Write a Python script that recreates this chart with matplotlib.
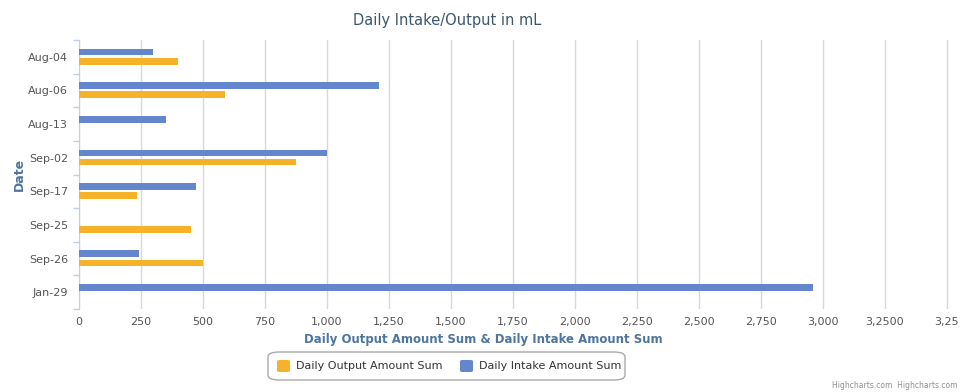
import numpy as np
import matplotlib
matplotlib.use('Agg')
import matplotlib.pyplot as plt
from matplotlib.patches import FancyBboxPatch

# data
dates = ['Aug-04', 'Aug-06', 'Aug-13', 'Sep-02', 'Sep-17', 'Sep-25', 'Sep-26', 'Jan-29']
output_sum = [400, 590, 0, 875, 235, 450, 500, 0]
intake_sum = [300, 1210, 350, 1000, 470, 0, 240, 2960]
x_ticks = [0, 250, 500, 750, 1000, 1250, 1500, 1750, 2000, 2250, 2500, 2750, 3000, 3250, 3500]
x_labels = ['0', '250', '500', '750', '1,000', '1,250', '1,500', '1,750', '2,000',
            '2,250', '2,500', '2,750', '3,000', '3,2500', '3,25']

blue = '#6386cc'
orange = '#f6b32a'
axis_title = '#4d759e'
tick_col = '#555555'

plt.rcParams['font.family'] = ['DejaVu Sans']

fig = plt.figure(figsize=(9.65, 3.92), dpi=100)
fig.patch.set_facecolor('white')
ax = fig.add_axes([79 / 965, 1 - 309 / 392, 1 - 79 / 965, 269 / 392])

y = np.arange(len(dates))
h = 0.2
ax.barh(y - 0.14, intake_sum, height=h, color=blue, label='Daily Intake Amount Sum', zorder=3)
ax.barh(y + 0.13, output_sum, height=h, color=orange, label='Daily Output Amount Sum', zorder=3)

ax.set_ylim(len(dates) - 0.5, -0.5)
ax.set_xlim(0, 3573)
ax.set_yticks(y)
ax.set_yticklabels(dates, fontsize=8, color=tick_col)
ax.set_yticks(np.arange(-0.5, len(dates), 1), minor=True)
ax.tick_params(axis='y', which='major', length=0, pad=8)
ax.tick_params(axis='y', which='minor', length=4, color='#c0d0e0', width=1)

ax.set_xticks(x_ticks)
ax.set_xticklabels(x_labels, fontsize=8, color=tick_col)
ax.tick_params(axis='x', length=0, pad=6)
ax.grid(axis='x', color='#d8d8d8', linewidth=1, zorder=0)

for s in ['top', 'right', 'bottom']:
    ax.spines[s].set_visible(False)
ax.spines['left'].set_color('#c0d0e0')
ax.set_facecolor('none')

ax.set_xlabel('Daily Output Amount Sum & Daily Intake Amount Sum', fontsize=8.5,
              fontweight='bold', color=axis_title, labelpad=4)
ax.xaxis.set_label_coords((483 - 79) / 886, -0.09)
ax.set_ylabel('Date', fontsize=9, fontweight='bold', color=axis_title)
ax.yaxis.set_label_coords(-0.06, 0.5)

fig.text(447 / 965, 1 - 20 / 392, 'Daily Intake/Output in mL', ha='center', va='center',
         fontsize=10.5, color='#3e576f')

# legend box
box = FancyBboxPatch((268 / 965, 1 - 380 / 392), 357 / 965, 28 / 392,
                     boxstyle='round,pad=0,rounding_size=0.012', transform=fig.transFigure,
                     facecolor='white', edgecolor='#aaaaaa', linewidth=1)
fig.patches.append(box)
items = [(orange, 'Daily Output Amount Sum', 277), (blue, 'Daily Intake Amount Sum', 460)]
for col, lab, px in items:
    fig.patches.append(FancyBboxPatch((px / 965, 1 - 372 / 392), 13 / 965, 12 / 392,
                                      boxstyle='round,pad=0,rounding_size=0.003',
                                      transform=fig.transFigure, facecolor=col, edgecolor='none'))
    fig.text((px + 19) / 965, 1 - 366 / 392, lab, ha='left', va='center', fontsize=8, color='#333333')

fig.text(958 / 965, 1 - 385 / 392, 'Highcharts.com  Highcharts.com', ha='right', va='center',
         fontsize=5.5, color='#909090')

fig.savefig('out.png', dpi=100)
